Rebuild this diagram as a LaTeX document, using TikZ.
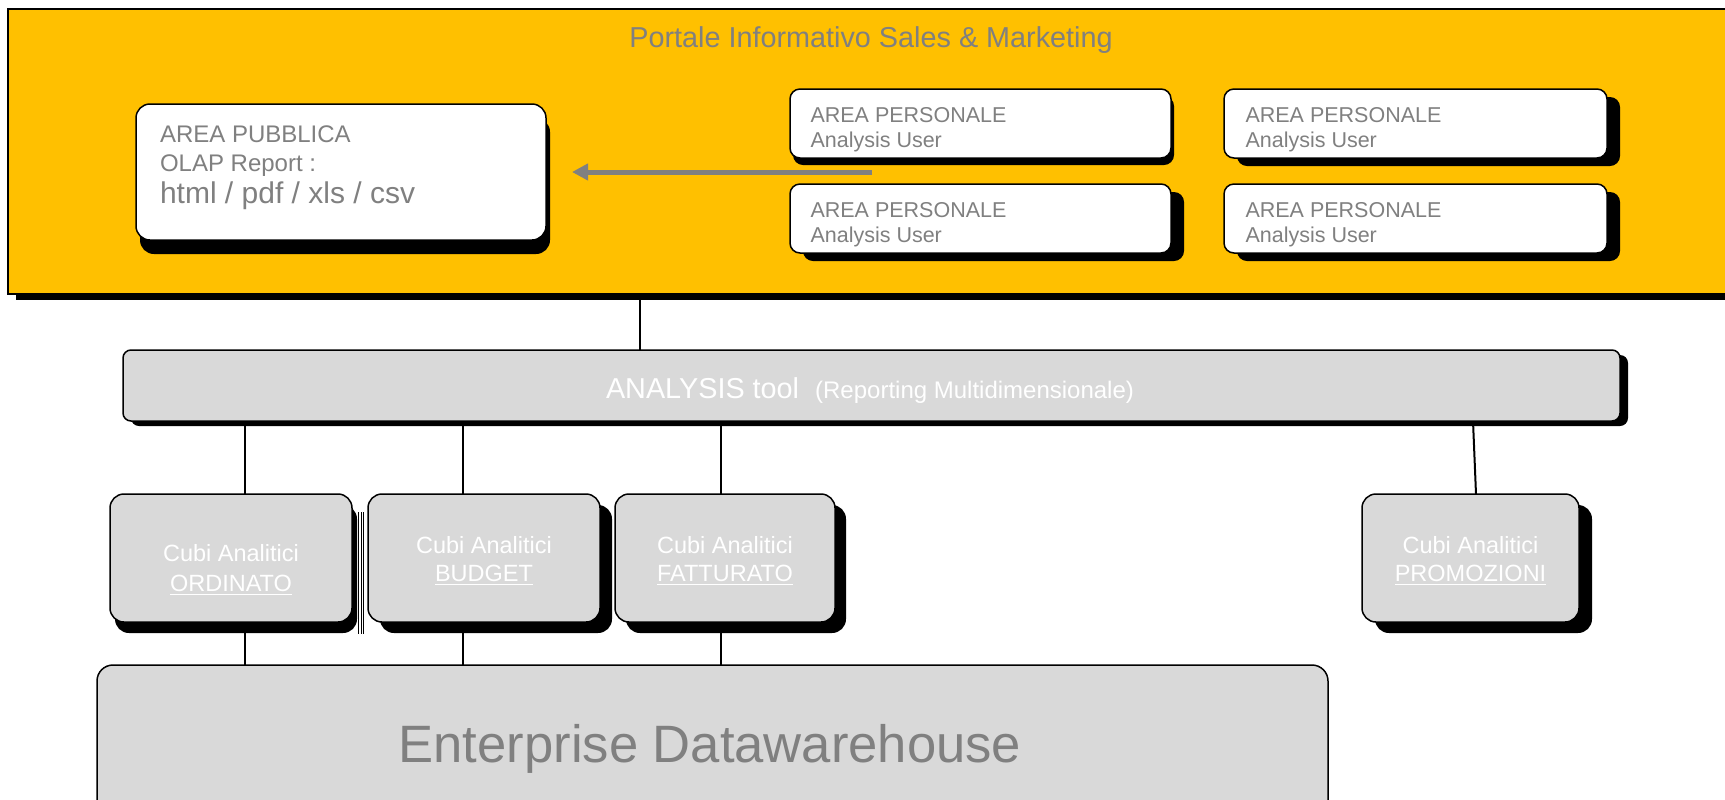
\documentclass[tikz,border=0pt]{standalone}
\usepackage{fontspec}
\setmainfont{Liberation Sans}
\usetikzlibrary{shadows,arrows.meta}

\definecolor{portalyellow}{RGB}{255,192,0}
\definecolor{boxgray}{RGB}{217,217,217}
\definecolor{txtgray}{RGB}{128,128,128}

\tikzset{
  panel/.style={draw=black, line width=0.75pt, inner sep=0pt, outer sep=0pt},
  shade/.style 2 args={drop shadow={shadow xshift=#1, shadow yshift=#2, opacity=1, fill=black}},
  whitebox/.style={panel, fill=white, rounded corners=5pt},
  cubebox/.style={panel, fill=boxgray, rounded corners=7pt,
    minimum height=64pt},
  link/.style={draw=black, line width=1pt},
  lbl/.style={inner sep=0pt, outer sep=0pt, text=txtgray},
  wlbl/.style={inner sep=0pt, outer sep=0pt, text=white},
}

\newcommand\fs[1]{\fontsize{#1}{1.2\dimexpr#1\relax}\selectfont}

\begin{document}
\begin{tikzpicture}[x=0.5pt, y=-0.5pt]
\useasboundingbox (0,0) rectangle (1725,799);
\clip (0,0) rectangle (1725,799);

% connector anchors
\coordinate (xa) at (640,0);
\coordinate (xo) at (245,0);
\coordinate (xb) at (463,0);
\coordinate (xf) at (721,0);
\coordinate (xp1) at (1473,0);
\coordinate (xp2) at (1476,0);

% portal frame
\node[panel, fill=portalyellow, minimum width=876pt, minimum height=142.5pt,
      shade={4pt}{-3pt}] (portal) at (884,151.5) {};
\node[lbl, anchor=base] (title) at (871,47) {\fs{14.4pt}Portale Informativo Sales \& Marketing};

% public area
\node[whitebox, rounded corners=7pt, minimum width=205pt, minimum height=68pt,
      shade={2pt}{-7pt}] (pub) at (341,172) {};
\node[lbl, anchor=base west] (pubA) at (160,142) {\fs{12pt}AREA PUBBLICA};
\node[lbl, anchor=base west] (pubB) at (160,171) {\fs{12pt}OLAP Report :};
\node[lbl, anchor=base west] (pubC) at (160,203) {\fs{15pt}html / pdf / xls / csv};

% personal areas
\node[whitebox, minimum width=190.5pt, minimum height=34.5pt, shade={1.5pt}{-3.5pt}] (pers1) at (980.5,123.5) {};
\node[whitebox, minimum width=191.5pt, minimum height=34.5pt, shade={6.5pt}{-4pt}] (pers2) at (1415.5,123.5) {};
\node[whitebox, minimum width=190.5pt, minimum height=34.5pt, shade={6.5pt}{-4pt}] (pers3) at (980.5,218.5) {};
\node[whitebox, minimum width=191.5pt, minimum height=34.5pt, shade={6.5pt}{-4pt}] (pers4) at (1415.5,218.5) {};

\foreach \n/\x/\y in {p1/810.5/122, p2/1245.5/122, p3/810.5/217, p4/1245.5/217}{
  \node[lbl, anchor=base west] (\n a) at (\x,\y) {\fs{10.75pt}AREA PERSONALE};
  \node[lbl, anchor=base west] (\n b) at (\x,\y+25) {\fs{10.75pt}Analysis User};
}

% publishing arrow
\coordinate (arrtail) at (872,172);
\coordinate (arrhead) at (572,172);
\draw[draw=txtgray, line width=2.5pt, -{Triangle[length=8pt, width=8pt]}] (arrtail) -- (arrhead);

% connectors
\draw[link] (portal.south -| xa) -- (xa |- 0,350) coordinate (atop);
\draw[link] (xo |- 0,421) -- (xo |- 0,494);
\draw[link] (xb |- 0,421) -- (xb |- 0,494);
\draw[link] (xf |- 0,421) -- (xf |- 0,494);
\draw[link] (xp1 |- 0,421) -- (xp2 |- 0,494);
\draw[link] (xo |- 0,622) -- (xo |- 0,665);
\draw[link] (xb |- 0,622) -- (xb |- 0,665);
\draw[link] (xf |- 0,622) -- (xf |- 0,665);

% analysis tool
\node[panel, fill=boxgray, rounded corners=4pt, minimum width=748.5pt, minimum height=35.5pt,
      shade={4pt}{-2.5pt}] (analysis) at (871.5,385.5) {};
\node[wlbl, anchor=base west] (antxt) at (606,398)
  {\fs{14.4pt}ANALYSIS tool\hspace{8pt}{\fs{12pt}(Reporting Multidimensionale)}};

% analytic cubes
\foreach \x in {358.5,361,363.5}
  \draw[line width=0.4pt] (\x,512) -- (\x,634);
\node[cubebox, minimum width=121pt, shade={2.5pt}{-5.5pt}] (ord) at (231,558) {};
\node[cubebox, minimum width=116pt, shade={6pt}{-5.5pt}] (bud) at (484,558) {};
\node[cubebox, minimum width=110pt, shade={5.5pt}{-5.5pt}] (fat) at (725,558) {};
\node[cubebox, minimum width=108.5pt, shade={6.5pt}{-5.5pt}] (pro) at (1470.5,558) {};

\node[wlbl, anchor=base] (ordA) at (231,561) {\fs{11.75pt}Cubi Analitici};
\node[wlbl, anchor=base] (ordB) at (231,591) {\fs{11.75pt}\underline{ORDINATO}};
\node[wlbl, anchor=base] (budA) at (484,553) {\fs{11.75pt}Cubi Analitici};
\node[wlbl, anchor=base] (budB) at (484,581) {\fs{11.75pt}\underline{BUDGET}};
\node[wlbl, anchor=base] (fatA) at (725,553) {\fs{11.75pt}Cubi Analitici};
\node[wlbl, anchor=base] (fatB) at (725,581) {\fs{11.75pt}\underline{FATTURATO}};
\node[wlbl, anchor=base] (proA) at (1470.5,553) {\fs{11.75pt}Cubi Analitici};
\node[wlbl, anchor=base] (proB) at (1470.5,581) {\fs{11.75pt}\underline{PROMOZIONI}};

% data warehouse
\node[panel, fill=boxgray, rounded corners=8pt, minimum width=615.5pt, minimum height=82.5pt] (dwh) at (712.5,747.5) {};
\node[lbl, anchor=base] (dwhtxt) at (710,762) {\fs{26.3pt}Enterprise Datawarehouse};
\end{tikzpicture}
\end{document}
